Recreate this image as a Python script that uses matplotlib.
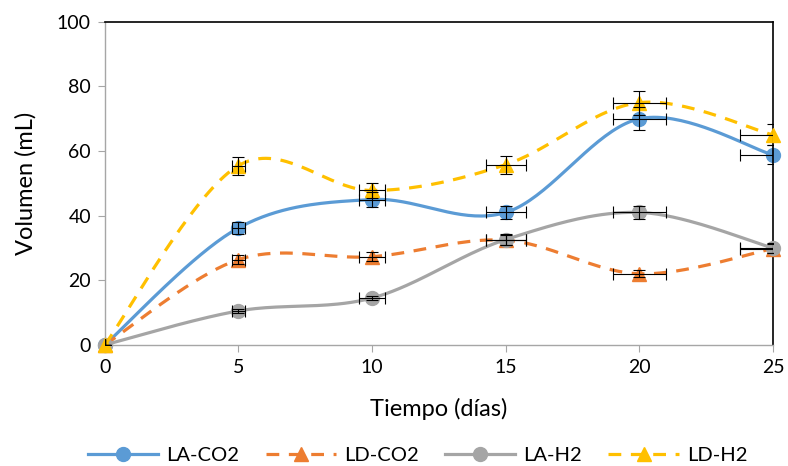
import matplotlib.pyplot as plt
import numpy as np

plt.rcParams['font.family'] = ['Lato', 'DejaVu Sans']

dias = [0, 5, 10, 15, 20, 25]
la_co2 = [0, 36.2, 45.0, 41.0, 70.0, 58.8]
ld_co2 = [0, 26.4, 27.3, 32.4, 22.0, 29.8]
la_h2 = [0, 10.5, 14.5, 32.6, 41.0, 30.0]
ld_h2 = [0, 55.5, 47.8, 55.8, 75.0, 65.0]

# error bars: 5 % of value (Excel percentage error bars)
x_err = [0, 0.25, 0.5, 0.75, 1.0, 1.25]
la_co2_err = [0, 1.81, 2.25, 2.05, 3.5, 2.94]
ld_co2_err = [0, 1.32, 1.37, 1.62, 1.1, 1.49]
la_h2_err = [0, 0.53, 0.73, 1.63, 2.05, 1.5]
ld_h2_err = [0, 2.78, 2.39, 2.79, 3.75, 3.25]


def excel_smooth(x, y, n=40):
    # bezier smoothing like Excel's "smoothed line"
    x = np.asarray(x, float)
    y = np.asarray(y, float)
    px = np.concatenate([[x[0]], x, [x[-1]]])
    py = np.concatenate([[y[0]], y, [y[-1]]])
    xs, ys = [], []
    t = np.linspace(0, 1, n)
    for i in range(1, len(px) - 2):
        p0 = np.array([px[i], py[i]])
        p3 = np.array([px[i + 1], py[i + 1]])
        p1 = p0 + (np.array([px[i + 1], py[i + 1]]) - np.array([px[i - 1], py[i - 1]])) / 6
        p2 = p3 - (np.array([px[i + 2], py[i + 2]]) - np.array([px[i], py[i]])) / 6
        b = ((1 - t) ** 3)[:, None] * p0 + (3 * (1 - t) ** 2 * t)[:, None] * p1 \
            + (3 * (1 - t) * t ** 2)[:, None] * p2 + (t ** 3)[:, None] * p3
        xs.extend(b[:, 0])
        ys.extend(b[:, 1])
    return xs, ys


fig = plt.figure(figsize=(7.88, 4.66), dpi=100)
ax = fig.add_axes([0.133, 0.26, 0.848, 0.693])

series = [
    ("LA-CO2", la_co2, la_co2_err, '#5B9BD5', '-', 'o'),
    ("LD-CO2", ld_co2, ld_co2_err, '#ED7D31', (0, (4, 3)), '^'),
    ("LA-H2", la_h2, la_h2_err, '#A5A5A5', '-', 'o'),
    ("LD-H2", ld_h2, ld_h2_err, '#FFC000', (0, (4, 3)), '^'),
]

handles = []
for i, (name, vals, yerr, col, ls, mk) in enumerate(series):
    sx, sy = excel_smooth(dias, vals)
    ax.plot(sx, sy, color=col, linestyle=ls, linewidth=2.3, zorder=2 + i,
            clip_on=False, dash_capstyle='butt')
    ax.plot(dias, vals, linestyle='none', marker=mk, markersize=10,
            color=col, zorder=2 + i, clip_on=False)
    h, = ax.plot([], [], color=col, linestyle=ls, linewidth=2.3,
                 marker=mk, markersize=10)
    handles.append(h)

for name, vals, yerr, col, ls, mk in series:
    ax.errorbar(dias, vals, xerr=x_err, yerr=yerr, fmt='none', ecolor='black',
                elinewidth=0.8, capsize=4, capthick=0.8, zorder=10)

ax.set_xlim(0, 25)
ax.set_ylim(0, 100)
ax.set_xticks([0, 5, 10, 15, 20, 25])
ax.set_yticks([0, 20, 40, 60, 80, 100])
ax.tick_params(axis='both', direction='out', length=5, color='#A6A6A6',
               labelsize=14, labelcolor='black', pad=5)

for side in ['left', 'bottom']:
    ax.spines[side].set_color('#A6A6A6')
    ax.spines[side].set_linewidth(1.0)
for side in ['top', 'right']:
    ax.spines[side].set_color('black')
    ax.spines[side].set_linewidth(1.2)

ax.set_xlabel("Tiempo (días)", fontsize=17, labelpad=16)
ax.set_ylabel("Volumen (mL)", fontsize=17, labelpad=15)

fig.legend(handles, [s[0] for s in series], loc='center', ncol=4,
           bbox_to_anchor=(0.53, 0.022), frameon=False, fontsize=14.5,
           handlelength=3.5, columnspacing=1.3, handletextpad=0.4)

fig.savefig("out.png", dpi=100)
